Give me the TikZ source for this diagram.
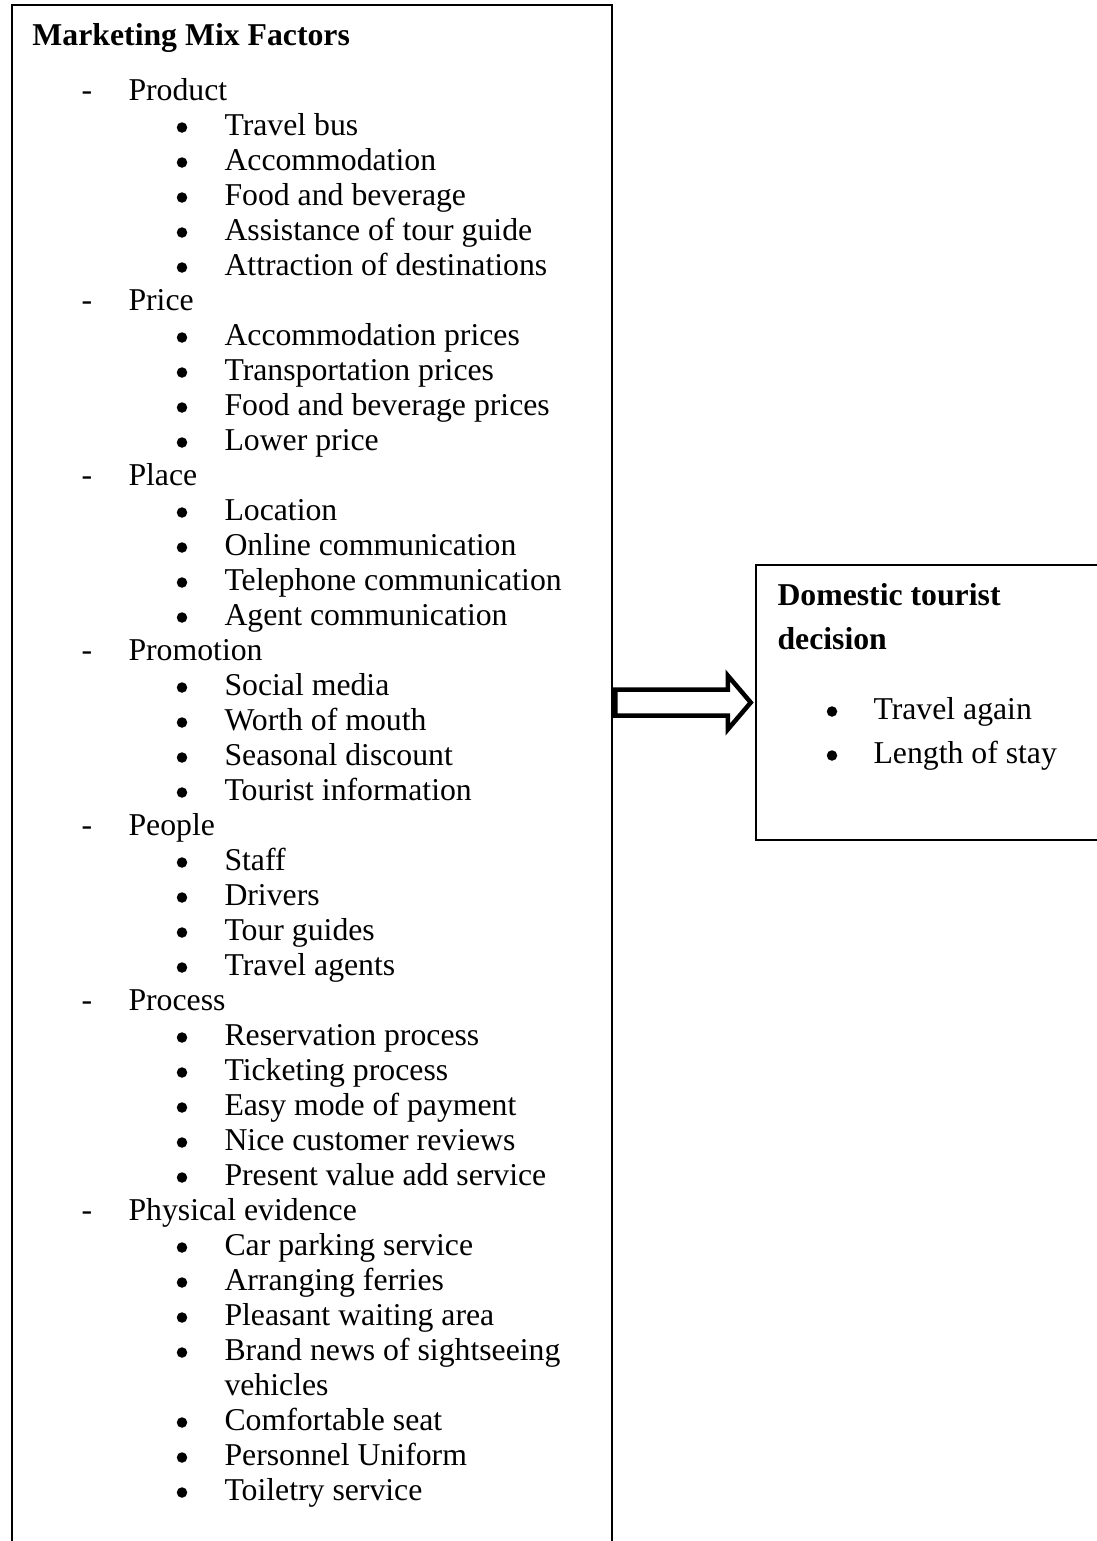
\documentclass[tikz,border=0pt]{standalone}
\usepackage{fontspec}
\setmainfont{Liberation Serif}
\usetikzlibrary{calc,fit}
\begin{document}
\begin{tikzpicture}[x=0.4pt,y=-0.4pt,
  boxline/.style={draw,line width=1pt,inner sep=0pt},
  txt/.style={anchor=base west,inner sep=0pt,font=\fontsize{12.7pt}{15pt}\selectfont},
  head/.style={anchor=base west,inner sep=0pt,font=\fontsize{12.7pt}{15pt}\selectfont\bfseries},
  dot/.style={fill,circle,inner sep=0pt,minimum size=4.2pt},
  blockarrow/.style={draw,line width=1.8pt,line join=miter,fill=white}]

\useasboundingbox (0,0) rectangle (1097,1541);
\clip (0,0) rectangle (1097,1541);

% frames
\node[boxline, fit={(12,5) (612,1600)}] (mix) {};
\node[boxline, fit={(756,565) (1120,840)}] (dec) {};

% left column
\node[head] (title) at (32,45) {Marketing Mix Factors};

\foreach \n/\t in {0/Product,6/Price,11/Place,16/Promotion,21/People,26/Process,32/Physical evidence}{
  \pgfmathsetmacro\yy{100+35*\n}
  \node[txt] (dash\n) at (81,\yy) {-};
  \node[txt] (cat\n) at (128,\yy) {\t};
}

\foreach \n/\t in {1/Travel bus,2/Accommodation,3/Food and beverage,4/Assistance of tour guide,5/Attraction of destinations,
  7/Accommodation prices,8/Transportation prices,9/Food and beverage prices,10/Lower price,
  12/Location,13/Online communication,14/Telephone communication,15/Agent communication,
  17/Social media,18/Worth of mouth,19/Seasonal discount,20/Tourist information,
  22/Staff,23/Drivers,24/Tour guides,25/Travel agents,
  27/Reservation process,28/Ticketing process,29/Easy mode of payment,30/Nice customer reviews,31/Present value add service,
  33/Car parking service,34/Arranging ferries,35/Pleasant waiting area,36/Brand news of sightseeing,
  38/Comfortable seat,39/Personnel Uniform,40/Toiletry service}{
  \pgfmathsetmacro\yy{100+35*\n}
  \node[dot] (bul\n) at (182,\yy-7.5) {};
  \node[txt] (item\n) at (224,\yy) {\t};
}
\node[txt] (item37) at (224,{100+35*37}) {vehicles};

% right column
\node[head] (dt1) at (777,605) {Domestic tourist};
\node[head] (dt2) at (777,649) {decision};
\node[dot] (rb1) at (832,711.5) {};
\node[txt] (ro1) at (873,719) {Travel again};
\node[dot] (rb2) at (832,755.5) {};
\node[txt] (ro2) at (873,763) {Length of stay};

% hollow block arrow from the factors to the decision
\coordinate (ab) at (mix.east |- dec.west);
\draw[blockarrow] ($(ab)+(2,-13)$) -- ($(dec.west)+(-27,-13)$) -- ($(dec.west)+(-27,-27)$)
  -- ($(dec.west)+(-4,0)$) -- ($(dec.west)+(-27,27)$) -- ($(dec.west)+(-27,13)$)
  -- ($(ab)+(2,13)$) -- cycle;
\end{tikzpicture}
\end{document}
